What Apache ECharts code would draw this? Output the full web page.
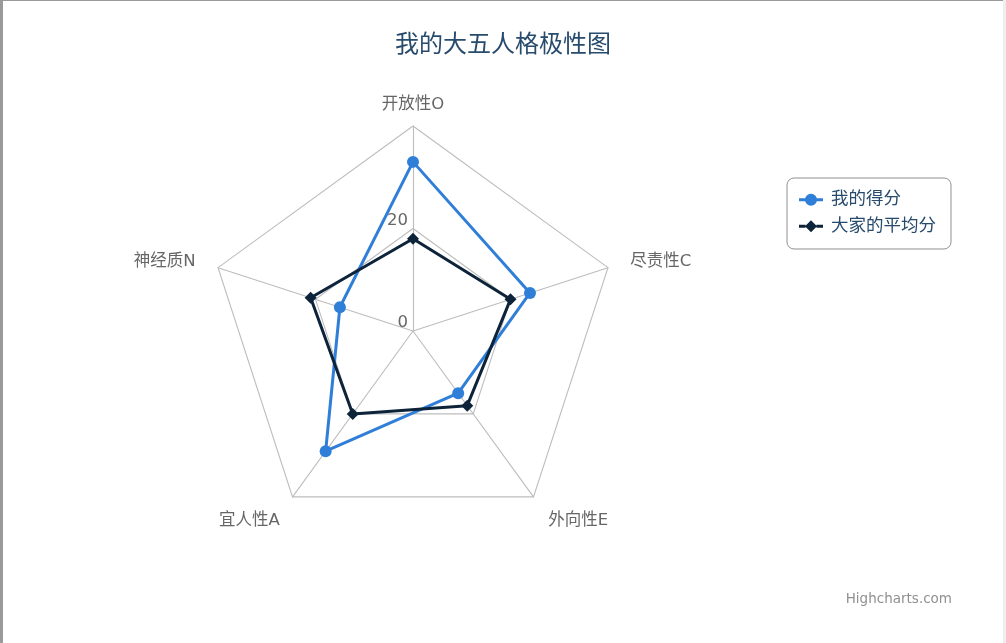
<!DOCTYPE html>
<html>
<head>
<meta charset="utf-8">
<script src="https://cdn.jsdelivr.net/npm/echarts@6/dist/echarts.min.js"></script>
<style>
  html, body { margin: 0; padding: 0; background: #eeeeee; }
  #wrap { position: absolute; left: 0; top: 0; width: 1000px; height: 642px;
          background: #ffffff; border-left: 3px solid #9a9a9a; border-top: 1px solid #9a9a9a; }
  #chart { width: 1000px; height: 642px; }
</style>
</head>
<body>
<div id="wrap"><div id="chart"></div></div>
<script>
// ---- data ----
const titleText = '我的大五人格极性图';
const categories = ['开放性O', '尽责性C', '外向性E', '宜人性A', '神经质N'];
const seriesNames = ['我的得分', '大家的平均分'];
const myScores = [33, 24, 15, 29, 15];
const avgScores = [18, 20, 18, 20, 21];
const axisMax = 40;
const creditText = 'Highcharts.com';

// Highcharts goes clockwise; ECharts radar goes counter-clockwise -> reorder
const order = [0, 4, 3, 2, 1];
const pick = arr => order.map(i => arr[i]);

const FONT = '"DejaVu Sans", "Noto Sans CJK SC", sans-serif';

const indicator = pick(categories).map((name, k) => {
  const o = { name: name, max: axisMax, min: 0 };
  if (k === 0) {
    o.axisLabel = { show: true, showMaxLabel: false, color: '#666666', fontSize: 16.5,
                    fontFamily: FONT, margin: 5, verticalAlign: 'bottom' };
  }
  return o;
});

// per-label fine placement styles
const nameStyle = {};
nameStyle[categories[1]] = 'side';
nameStyle[categories[4]] = 'side';
nameStyle[categories[2]] = 'low';
nameStyle[categories[3]] = 'low';

const chart = echarts.init(document.getElementById('chart'), null, { renderer: 'canvas' });

const circleIcon = 'path://M0,4.5L6.2,4.5L6.2,7.5L0,7.5Z M17.8,4.5L24,4.5L24,7.5L17.8,7.5Z M12,0A6,6 0 1,1 12,12A6,6 0 1,1 12,0Z';
const diamondIcon = 'path://M0,4.5L6.5,4.5L6.5,7.5L0,7.5Z M17.5,4.5L24,4.5L24,7.5L17.5,7.5Z M12,0L18,6L12,12L6,6Z';

chart.setOption({
  animation: false,
  backgroundColor: '#ffffff',
  title: {
    text: titleText,
    left: 'center',
    top: 28,
    textStyle: { color: '#274b6d', fontSize: 24, fontWeight: 'normal', fontFamily: FONT }
  },
  legend: {
    orient: 'vertical',
    left: 784,
    top: 177,
    padding: [13, 15, 14, 12],
    itemGap: 9,
    itemWidth: 24,
    itemHeight: 12,
    borderColor: '#909090',
    borderWidth: 1,
    borderRadius: 7,
    textStyle: { color: '#274b6d', fontSize: 17.5, fontFamily: FONT, padding: [0, 0, 0, 3] },
    data: [
      { name: seriesNames[0], icon: circleIcon },
      { name: seriesNames[1], icon: diamondIcon }
    ]
  },
  radar: {
    center: [410, 330],
    radius: 205,
    startAngle: 90,
    splitNumber: 2,
    shape: 'polygon',
    nameGap: 13,
    axisName: {
      color: '#666666',
      fontSize: 16.5,
      fontFamily: FONT,
      formatter: function (name) {
        const s = nameStyle[name];
        return s ? '{' + s + '|' + name + '}' : name;
      },
      rich: {
        side: { color: '#666666', fontSize: 16.5, fontFamily: FONT, padding: [0, 10, 3, 10] },
        low: { color: '#666666', fontSize: 16.5, fontFamily: FONT, padding: [26, 5, 0, 7] }
      }
    },
    axisLine: { lineStyle: { color: '#bdbdbd', width: 1.1 } },
    splitLine: { lineStyle: { color: '#bdbdbd', width: 1.1 } },
    splitArea: { show: false },
    axisTick: { show: false },
    axisLabel: { show: false },
    indicator: indicator
  },
  graphic: [{
    type: 'text',
    right: 51,
    top: 592,
    style: { text: creditText, fill: '#909090', fontSize: 13.5, fontFamily: FONT }
  }],
  series: [{
    type: 'radar',
    data: [
      {
        name: seriesNames[0],
        value: pick(myScores),
        symbol: 'circle',
        symbolSize: 12,
        itemStyle: { color: '#2f7ed8' },
        lineStyle: { color: '#2f7ed8', width: 3 }
      },
      {
        name: seriesNames[1],
        value: pick(avgScores),
        symbol: 'diamond',
        symbolSize: 12,
        itemStyle: { color: '#0d233a' },
        lineStyle: { color: '#0d233a', width: 3 }
      }
    ]
  }]
});
</script>
</body>
</html>
